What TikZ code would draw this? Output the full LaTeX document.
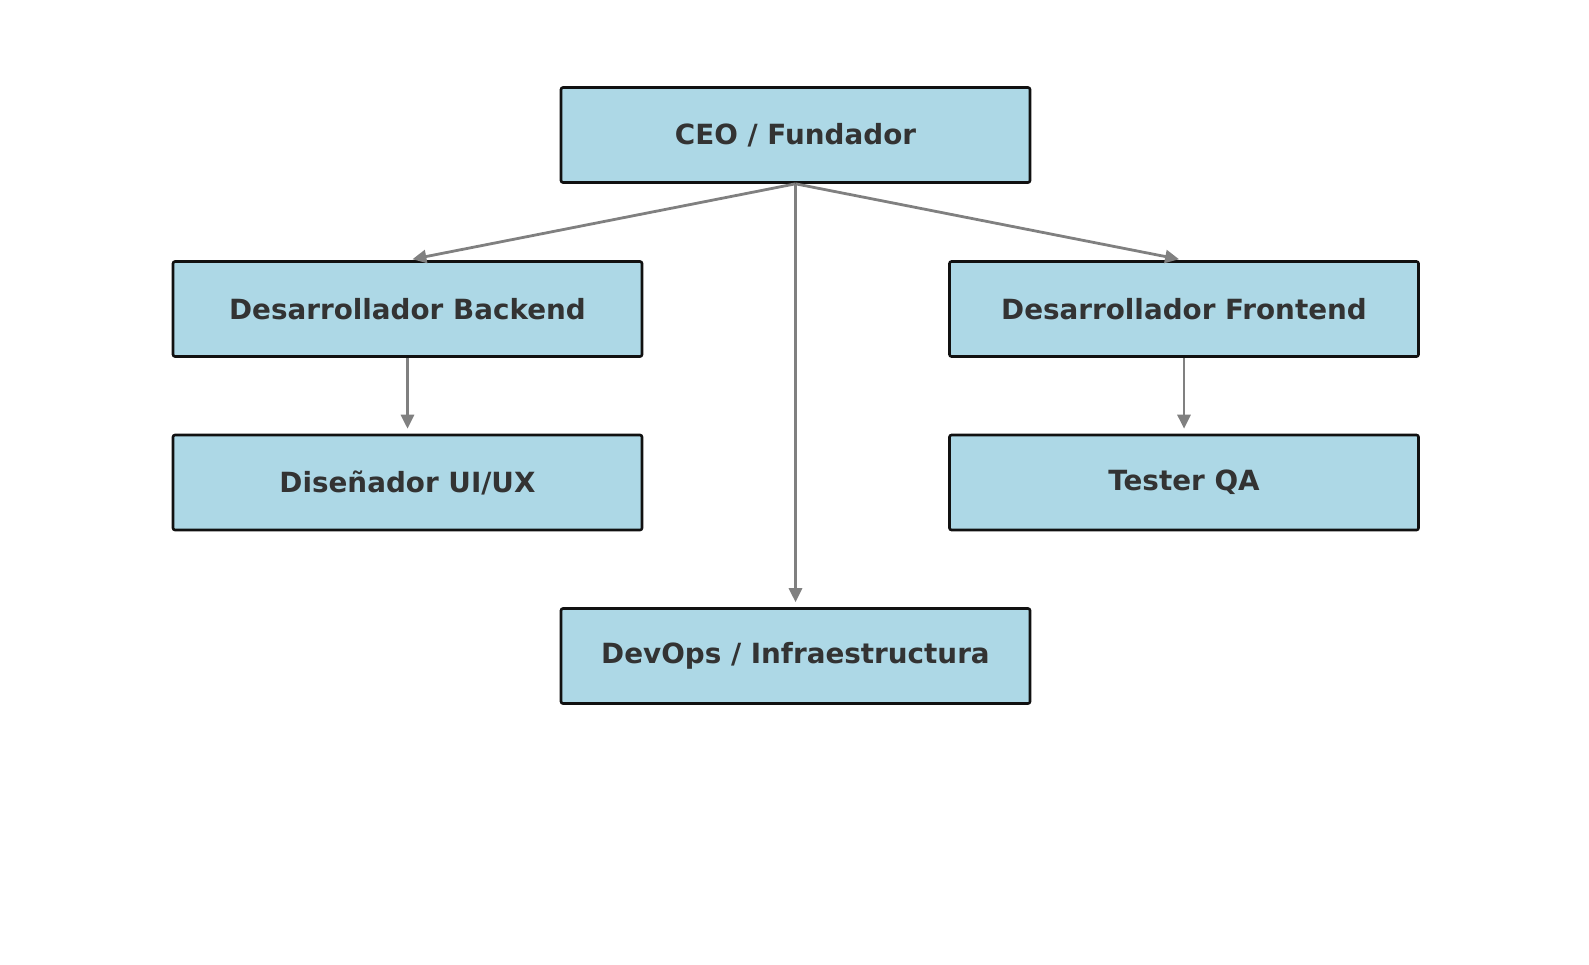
\documentclass[tikz,border=0pt]{standalone}
\usepackage{fontspec}
\setmainfont{DejaVu Sans}
\usetikzlibrary{arrows.meta}
\definecolor{boxfill}{HTML}{ADD8E6}
\definecolor{txt}{HTML}{333333}
\definecolor{arrgray}{HTML}{808080}
\definecolor{edge}{HTML}{111111}
\tikzset{
  rolebox/.style={draw=edge, line width=2.6pt, fill=boxfill, rounded corners=2pt,
    minimum width=469pt, minimum height=95pt, inner sep=0pt,
    text=txt, font=\fontsize{27.8}{33}\selectfont\bfseries},
  arr/.style={draw=arrgray, line width=2.8pt, -{Triangle[length=14pt,width=13pt]}, shorten >=5pt}
}
\begin{document}
\begin{tikzpicture}[x=1pt,y=-1pt]
\useasboundingbox (0,0) rectangle (1589,964);
\node[rolebox] (ceo) at (795.5,135) {CEO / Fundador};
\node[rolebox] (back) at (407.5,309) {Desarrollador Backend};
\node[rolebox] (front) at (1184,309) {Desarrollador Frontend};
\node[rolebox] (ui) at (407.5,482.5) {Diseñador UI/UX};
\node[rolebox] (qa) at (1184,482.5) {Tester QA};
\node[rolebox] (devops) at (795.5,656) {DevOps / Infraestructura};
\draw[arr] (ceo.south) -- (back.north);
\draw[arr] (ceo.south) -- (front.north);
\draw[arr] (ceo.south) -- (devops.north);
\draw[arr] (back.south) -- (ui.north);
\draw[arr] (front.south) -- (qa.north);
\end{tikzpicture}
\end{document}
